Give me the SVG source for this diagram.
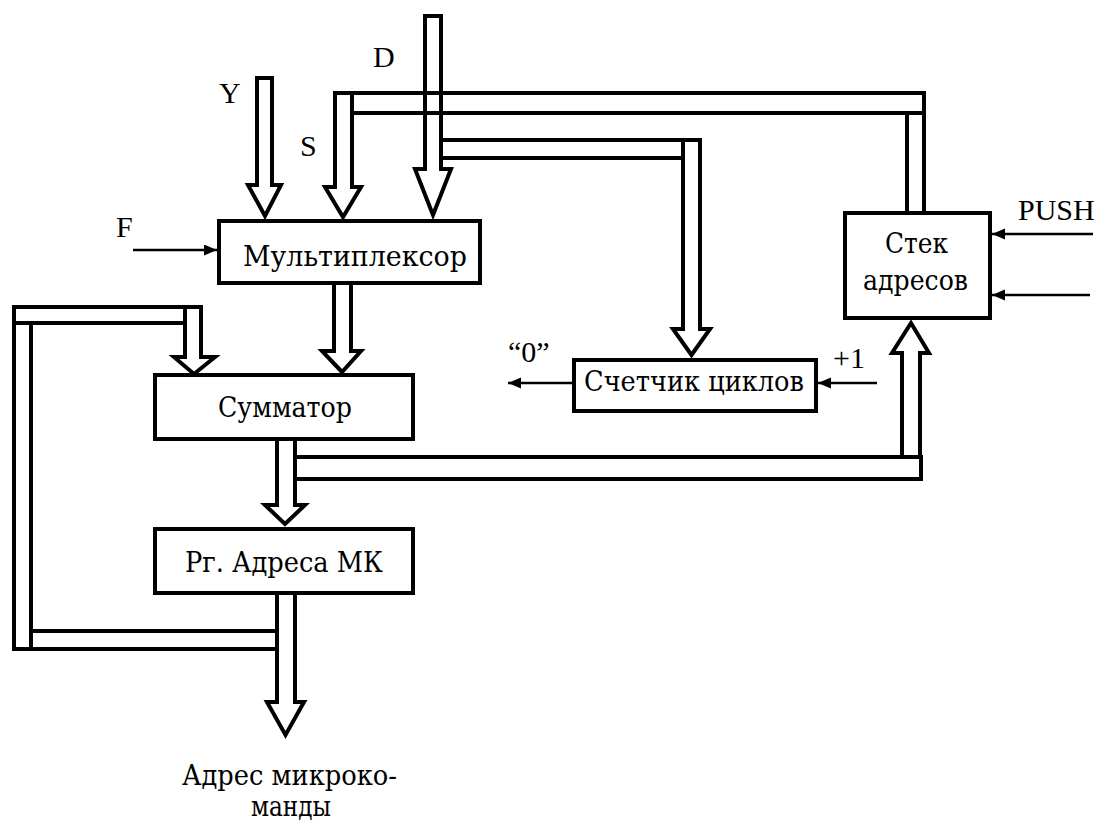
<svg xmlns="http://www.w3.org/2000/svg" width="1101" height="823" viewBox="0 0 1101 823">
  <style>
    .bus { fill: #fff; stroke: #000; stroke-width: 4; stroke-linejoin: miter; stroke-miterlimit: 10; }
    .busx { fill: none; stroke: #000; stroke-width: 4; stroke-linejoin: miter; stroke-miterlimit: 10; }
    .box { fill: #fff; stroke: #000; stroke-width: 4; }
    .sig { fill: none; stroke: #000; stroke-width: 2.5; marker-end: url(#ah); }
    text { font-family: "Liberation Serif", "DejaVu Serif", serif; font-size: 30px; fill: #000; }
    .ru { font-family: "DejaVu Serif", "Liberation Serif", serif; font-size: 28px; }
    .c { text-anchor: middle; }
  </style>
  <defs>
    <marker id="ah" markerUnits="userSpaceOnUse" markerWidth="14" markerHeight="12" refX="13" refY="5.5" orient="auto">
      <path d="M0,0 L13,5.5 L0,11 z" fill="#000"/>
    </marker>
  </defs>

  <rect width="1101" height="823" fill="#fff"/>

  <!-- bus connectors -->
  <g id="connectors">
    <!-- Y input -->
    <polygon class="bus" points="257,78 272,78 272,185 281,185 265,216 248,185 257,185"/>
    <!-- S input from the address stack -->
    <polygon class="bus" points="335,93 352,93 352,187 361,187 343,217 325,187 335,187"/>
    <rect class="busx" x="352" y="93" width="572" height="20"/>
    <rect class="bus" x="907" y="113" width="17" height="100"/>
    <!-- D input, crossing the S bus -->
    <polygon class="busx" points="425,16 441,16 441,169 451,169 433,215 415,169 425,169"/>
    <!-- D branch to the loop counter -->
    <rect class="bus" x="441" y="140" width="259" height="18"/>
    <polygon class="bus" points="683,140 700,140 700,329 710,329 691.5,355 673,329 683,329"/>
    <!-- multiplexer to adder -->
    <polygon class="bus" points="334,283 351,283 351,351 361,351 342,372 322,351 334,351"/>
    <!-- adder to address register -->
    <polygon class="bus" points="277,439 295,439 295,505 305,505 285,524 265,505 277,505"/>
    <!-- adder output to the address stack -->
    <rect class="bus" x="295" y="457" width="626" height="22"/>
    <polygon class="bus" points="902,457 920,457 920,353 929,353 911,323 892,353 902,353"/>
    <!-- register output -->
    <polygon class="bus" points="277,593 295,593 295,702 304,702 285.5,735 267,702 277,702"/>
    <!-- feedback from register to adder -->
    <rect class="bus" x="14" y="307" width="17" height="342"/>
    <rect class="bus" x="14" y="307" width="171" height="16"/>
    <rect class="bus" x="31" y="631" width="246" height="18"/>
    <polygon class="bus" points="185,307 201,307 201,357 215,357 194,374 174,357 185,357"/>
    <!-- single control lines -->
    <line class="sig" x1="133" y1="250" x2="217" y2="250"/>
    <line class="sig" x1="572" y1="383" x2="508" y2="383"/>
    <line class="sig" x1="877" y1="383" x2="818" y2="383"/>
    <line class="sig" x1="1093" y1="234" x2="992" y2="234"/>
    <line class="sig" x1="1090" y1="295" x2="992" y2="295"/>
  </g>

  <g id="mux">
    <rect class="box" x="219" y="221" width="261" height="62"/>
    <text class="c ru" x="355" y="266" textLength="224" lengthAdjust="spacingAndGlyphs">Мультиплексор</text>
  </g>
  <g id="adder">
    <rect class="box" x="155" y="375" width="258" height="64"/>
    <text class="c ru" x="285" y="417" textLength="134" lengthAdjust="spacingAndGlyphs">Сумматор</text>
  </g>
  <g id="addr-reg">
    <rect class="box" x="155" y="529" width="258" height="64"/>
    <text class="c ru" x="284" y="572" textLength="198" lengthAdjust="spacingAndGlyphs">Рг. Адреса МК</text>
  </g>
  <g id="counter">
    <rect class="box" x="574" y="360" width="242" height="51"/>
    <text class="c ru" x="694" y="391" textLength="220" lengthAdjust="spacingAndGlyphs">Счетчик циклов</text>
  </g>
  <g id="stack">
    <rect class="box" x="845" y="213" width="145" height="105"/>
    <text class="c ru" x="916.5" y="253" textLength="63" lengthAdjust="spacingAndGlyphs">Стек</text>
    <text class="c ru" x="915.5" y="290" textLength="105" lengthAdjust="spacingAndGlyphs">адресов</text>
  </g>

  <g id="labels">
    <text x="219" y="103">Y</text>
    <text x="373" y="67">D</text>
    <text x="300" y="156">S</text>
    <text x="116" y="237">F</text>
    <text x="1018" y="220">PUSH</text>
    <text x="833" y="368">+1</text>
    <text x="508" y="362">“0”</text>
    <text class="c ru" x="289.5" y="785" textLength="215" lengthAdjust="spacingAndGlyphs">Адрес микроко-</text>
    <text class="c ru" x="291" y="816" textLength="80" lengthAdjust="spacingAndGlyphs">манды</text>
  </g>
</svg>
